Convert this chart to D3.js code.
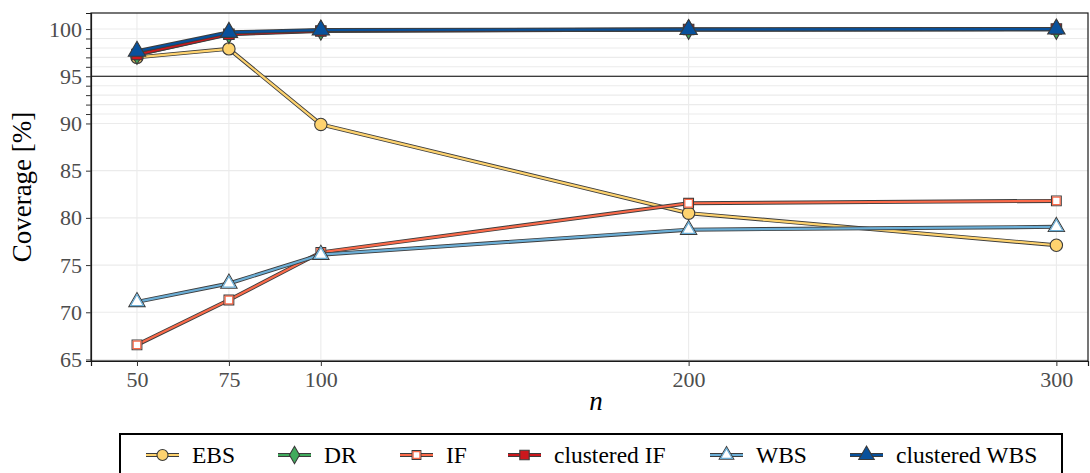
<!DOCTYPE html>
<html>
<head>
<meta charset="utf-8">
<script src="https://cdn.jsdelivr.net/npm/d3@7"></script>
<style>
  html, body { margin: 0; padding: 0; background: #fff; }
  svg { display: block; }
  svg text { font-family: "Liberation Serif", "DejaVu Serif", serif; }
</style>
</head>
<body>
<svg id="chart" width="1090" height="473"></svg>
<script>
// Sample sizes on the x axis
const nValues = [50, 75, 100, 200, 300];

// Coverage (%) per method
const ebs        = [97.0, 97.9, 89.9, 80.5, 77.1];
const dr         = [97.3, 99.5, 99.85, 99.95, 99.95];
const ifCov      = [66.55, 71.3, 76.35, 81.55, 81.8];
const clusterIf  = [97.3, 99.45, 99.8, 99.95, 100.0];
const wbs        = [71.1, 73.05, 76.1, 78.75, 79.05];
const clusterWbs = [97.65, 99.65, 99.9, 99.95, 100.0];

const seriesNames = ["EBS", "DR", "IF", "clustered IF", "WBS", "clustered WBS"];
const seriesData  = [ebs, dr, ifCov, clusterIf, wbs, clusterWbs];

const yTickLabels = [65, 70, 75, 80, 85, 90, 95, 100];
const yMinorBreaks = [91, 92, 93, 94, 96, 97, 98, 99];
const nominalLevel = 95;

// Appearance per series: colour, marker shape, marker fill
const styles = {
  "EBS":           { color: "#fed36f", shape: d3.symbolCircle,   fill: "#fed36f", size: 120 },
  "DR":            { color: "#41ab5d", shape: d3.symbolDiamond,  fill: "#41ab5d", size: 110 },
  "IF":            { color: "#fb6a4a", shape: d3.symbolSquare,   fill: "#ffffff", size: 95, inner: "#fb6a4a" },
  "clustered IF":  { color: "#cb181d", shape: d3.symbolSquare,   fill: "#cb181d", size: 110 },
  "WBS":           { color: "#6baed6", shape: d3.symbolTriangle, fill: "#ffffff", size: 115, inner: "#6baed6" },
  "clustered WBS": { color: "#08519c", shape: d3.symbolTriangle, fill: "#08519c", size: 130 }
};

const FONT = "Liberation Serif, DejaVu Serif, serif";
const svg = d3.select("#chart");
const panel = { left: 91, top: 13, right: 1088, bottom: 361 };

const x = d3.scaleLinear().domain([37.5, 308.6]).range([panel.left, panel.right]);
const y = d3.scaleLinear().domain([64.84, 101.7]).range([panel.bottom, panel.top]);

// Grid lines
const grid = svg.append("g");
const hBreaks = yTickLabels.concat(yMinorBreaks);
grid.selectAll("line.h").data(hBreaks).join("line")
  .attr("x1", panel.left).attr("x2", panel.right)
  .attr("y1", d => y(d)).attr("y2", d => y(d))
  .attr("stroke", "#ebebeb").attr("stroke-width", 1.1);
grid.selectAll("line.v").data(nValues).join("line")
  .attr("y1", panel.top).attr("y2", panel.bottom)
  .attr("x1", d => x(d)).attr("x2", d => x(d))
  .attr("stroke", "#ebebeb").attr("stroke-width", 1.1);

// Reference line at the nominal level
svg.append("line")
  .attr("x1", panel.left).attr("x2", panel.right)
  .attr("y1", y(nominalLevel)).attr("y2", y(nominalLevel))
  .attr("stroke", "#000").attr("stroke-width", 1);

// Panel border
svg.append("rect")
  .attr("x", panel.left).attr("y", panel.top)
  .attr("width", panel.right - panel.left).attr("height", panel.bottom - panel.top)
  .attr("fill", "none").attr("stroke", "#1a1a1a").attr("stroke-width", 1.2);

// Axes
const yAxis = d3.axisLeft(y)
  .tickValues(yTickLabels.concat(yMinorBreaks))
  .tickFormat(d => yTickLabels.includes(d) ? d : "")
  .tickSize(5).tickPadding(4);
const gy = svg.append("g").attr("transform", `translate(${panel.left},0)`).call(yAxis)
  .attr("font-family", FONT).attr("font-size", 22);
gy.select(".domain").attr("stroke", "#1a1a1a").attr("stroke-width", 1.2);
gy.selectAll(".tick line").attr("stroke", "#333");
gy.selectAll(".tick text").attr("fill", "#4d4d4d");

const xAxis = d3.axisBottom(x).tickValues(nValues).tickSize(5).tickPadding(5);
const gx = svg.append("g").attr("transform", `translate(0,${panel.bottom})`).call(xAxis)
  .attr("font-family", FONT).attr("font-size", 22);
gx.select(".domain").attr("stroke", "#1a1a1a").attr("stroke-width", 1.2);
gx.selectAll(".tick line").attr("stroke", "#333");
gx.selectAll(".tick text").attr("fill", "#4d4d4d");

// Axis titles
svg.append("text")
  .attr("transform", `translate(31,${(panel.top + panel.bottom) / 2}) rotate(-90)`)
  .attr("text-anchor", "middle")
  .attr("font-family", FONT)
  .attr("font-size", 27)
  .text("Coverage [%]");
svg.append("text")
  .attr("x", 596).attr("y", 410)
  .attr("text-anchor", "middle")
  .attr("font-family", FONT)
  .attr("font-size", 27).attr("font-style", "italic")
  .text("n");

// Lines and markers
const line = d3.line().x((d, i) => x(nValues[i])).y(d => y(d));
const plot = svg.append("g");

function drawMarker(g, name, cx, cy, scale) {
  const st = styles[name];
  const sym = d3.symbol().type(st.shape).size(st.size * (scale || 1));
  g.append("path")
    .attr("d", sym())
    .attr("transform", `translate(${cx},${cy})`)
    .attr("fill", st.fill)
    .attr("stroke", "#3a3a3a")
    .attr("stroke-width", 1.1);
  if (st.inner) {
    g.append("path")
      .attr("d", sym())
      .attr("fill", "none")
      .attr("stroke", st.inner)
      .attr("stroke-width", 1.6)
      .attr("transform", `translate(${cx},${cy}) scale(0.78)`);
  }
}

seriesNames.forEach((name, k) => {
  const vals = seriesData[k];
  const st = styles[name];
  const g = plot.append("g");
  g.append("path").attr("d", line(vals)).attr("fill", "none")
    .attr("stroke", "#3d3d3d").attr("stroke-width", 4);
  g.append("path").attr("d", line(vals)).attr("fill", "none")
    .attr("stroke", st.color).attr("stroke-width", 2.2);
  vals.forEach((v, i) => drawMarker(g, name, x(nValues[i]), y(v)));
});

// Legend
const legend = svg.append("g");
legend.append("rect")
  .attr("x", 120).attr("y", 434).attr("width", 942).attr("height", 60)
  .attr("fill", "#fff").attr("stroke", "#000").attr("stroke-width", 2);
const legendKeyX = [146, 278, 400, 508, 710, 850];
seriesNames.forEach((name, k) => {
  const st = styles[name];
  const kx = legendKeyX[k], ky = 455;
  const g = legend.append("g");
  g.append("line").attr("x1", kx).attr("x2", kx + 33).attr("y1", ky).attr("y2", ky)
    .attr("stroke", "#3d3d3d").attr("stroke-width", 4);
  g.append("line").attr("x1", kx).attr("x2", kx + 33).attr("y1", ky).attr("y2", ky)
    .attr("stroke", st.color).attr("stroke-width", 2.2);
  drawMarker(g, name, kx + 16.5, ky, 0.8);
  g.append("text").attr("x", kx + 46).attr("y", ky + 8)
    .attr("font-family", FONT).attr("font-size", 23.5).text(name);
});
</script>
</body>
</html>
